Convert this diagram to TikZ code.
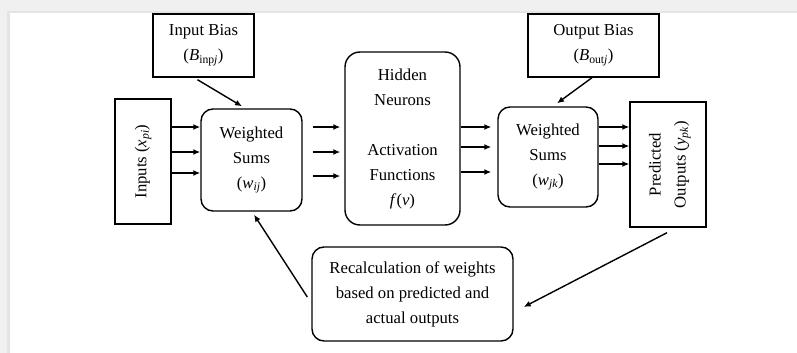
\documentclass[tikz,border=0pt]{standalone}
\usepackage{fontspec}
\setmainfont{Liberation Serif}
\usetikzlibrary{arrows.meta}
\definecolor{bandA}{HTML}{F0F0F0}
\definecolor{bandB}{HTML}{E4E4E4}
\begin{document}
\begin{tikzpicture}[x=1pt,y=-1pt,
  every node/.style={font=\fontsize{16.7}{25}\selectfont, align=center, inner sep=0pt},
  sqbox/.style={draw, line width=1.4pt},
  rbox/.style={draw, line width=1.4pt, rounded corners=12pt},
  arr/.style={line width=1.4pt, -{Latex[length=7pt,width=6pt]}}]
\useasboundingbox (0,0) rectangle (797,353);
\fill[white] (0,0) rectangle (797,353);
\fill[bandA] (0,0) rectangle (797,11);
\fill[bandB] (10,11) rectangle (797,13);
\fill[bandA] (0,0) rectangle (7,353);
\fill[bandB] (7,11) rectangle (10,353);

\node[sqbox, minimum width=101pt, minimum height=63pt] (inbias) at (203.5,45.5)
  {Input Bias\\(\textit{B}\textsubscript{inp\textit{j}})};
\node[sqbox, minimum width=56pt, minimum height=125pt] (inp) at (143,161.5)
  {\rotatebox{90}{Inputs (\textit{x}\textsubscript{\textit{pi}})}};
\node[rbox, minimum width=101pt, minimum height=102pt] (ws1) at (251.5,160)
  {Weighted\\Sums\\(\textit{w}\textsubscript{\textit{ij}})};
\node[rbox, rounded corners=15pt, minimum width=115pt, minimum height=173pt] (hid) at (402.5,138.5)
  {Hidden\\Neurons\\[25pt]Activation\\Functions\\\textit{f}(\textit{v})};
\node[rbox, minimum width=100pt, minimum height=100pt] (ws2) at (548,157)
  {Weighted\\Sums\\(\textit{w}\textsubscript{\textit{jk}})};
\node[sqbox, minimum width=131pt, minimum height=63pt] (outbias) at (593.5,45.5)
  {Output Bias\\(\textit{B}\textsubscript{out\textit{j}})};
\node[sqbox, minimum width=76pt, minimum height=125pt] (pred) at (668,164.5)
  {\rotatebox{90}{\begin{tabular}{@{}c@{}}Predicted\\Outputs (\textit{y}\textsubscript{\textit{pk}})\end{tabular}}};
\node[rbox, minimum width=201pt, minimum height=94pt] (rec) at (412.5,294)
  {Recalculation of weights\\based on predicted and\\actual outputs};

% inputs -> ws1
\foreach \s/\n in {34.5/a, 9.5/b, -11.5/c}{
  \coordinate (inarr\n) at ([yshift=\s pt]inp.east);
  \draw[arr] (inarr\n) -- (inarr\n -| ws1.west);
}
% ws1 -> hidden
\foreach \s/\n in {33/a, 8/b, -16/c}{
  \coordinate (hidarr\n) at ([yshift=\s pt]ws1.east);
  \draw[arr, shorten <=10pt, shorten >=4pt] (hidarr\n) -- (hidarr\n -| hid.west);
}
% hidden -> ws2
\foreach \s/\n in {11.5/a, -8.5/b, -33.5/c}{
  \coordinate (wsarr\n) at ([yshift=\s pt]hid.east);
  \draw[arr, shorten >=6pt] (wsarr\n) -- (wsarr\n -| ws2.west);
}
% ws2 -> predicted
\foreach \s/\n in {30/a, 11/b, -7/c}{
  \coordinate (predarr\n) at ([yshift=\s pt]ws2.east);
  \draw[arr] (predarr\n) -- (predarr\n -| pred.west);
}
% biases
\draw[arr] ([xshift=-6pt,yshift=-2pt]inbias.south) -- ([xshift=-9.5pt,yshift=2pt]ws1.north);
\draw[arr] ([xshift=-1.5pt]outbias.south) -- ([xshift=9pt,yshift=3pt]ws2.north);
% feedback
\draw[arr] ([xshift=-4pt,yshift=-3pt]rec.west) -- ([xshift=2.5pt,yshift=-3pt]ws1.south);
\draw[arr] ([xshift=-1pt,yshift=-5pt]pred.south) -- ([xshift=10pt,yshift=-13pt]rec.east);
\end{tikzpicture}
\end{document}
